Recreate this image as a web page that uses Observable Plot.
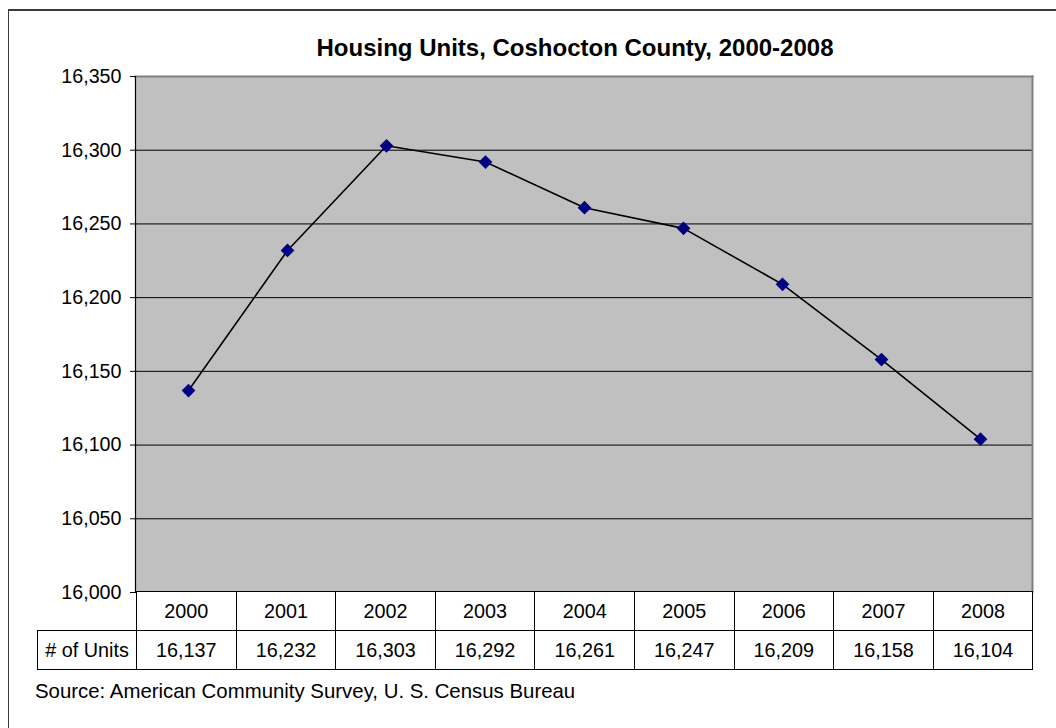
<!DOCTYPE html>
<html><head><meta charset="utf-8">
<script src="https://cdn.jsdelivr.net/npm/d3@7"></script>
<script src="https://cdn.jsdelivr.net/npm/@observablehq/plot@0.6"></script>
<style>
body{margin:0;background:#fff;font-family:"Liberation Sans",Arial,sans-serif;}
#wrap{position:relative;width:1056px;height:728px;overflow:hidden;background:#fff;}
#frame{position:absolute;left:8px;top:9px;width:1100px;height:800px;border-left:1.5px solid #3a3a3a;border-top:2px solid #3a3a3a;}
#chart{position:absolute;left:0;top:0;}
#title{position:absolute;left:175px;width:800px;top:36px;text-align:center;font-weight:bold;font-size:24px;line-height:1;color:#000;}
#tbl{position:absolute;left:37px;top:591px;width:996px;border-collapse:collapse;table-layout:fixed;font-size:19.8px;color:#000;}
#tbl td{border:1px solid #000;text-align:center;padding:0;height:38px;background:#fff;}
#tbl td.empty{border-top:none;border-left:none;background:transparent;}
#source{position:absolute;left:35px;top:681px;font-size:20.4px;line-height:1;color:#000;white-space:nowrap;}
</style>
</head><body>
<div id="wrap">
  <div id="frame"></div>
  <div id="chart"></div>
  <div id="title"></div>
  <table id="tbl"></table>
  <div id="source"></div>
</div>
<script>
const titleText = "Housing Units, Coshocton County, 2000-2008";
const sourceText = "Source: American Community Survey, U. S. Census Bureau";
const rowLabel = "# of Units";
const years = ["2000","2001","2002","2003","2004","2005","2006","2007","2008"];
const units = [16137,16232,16303,16292,16261,16247,16209,16158,16104];
const yTicks = [16000,16050,16100,16150,16200,16250,16300,16350];

const data = years.map((y,i)=>({year:y, units:units[i]}));
const fmt = d3.format(",");

const chart = Plot.plot({
  width:1056, height:592,
  marginTop:76, marginBottom:0, marginLeft:135, marginRight:24,
  style:{fontFamily:'"Liberation Sans", Arial, sans-serif', fontSize:"19.5px", color:"#000", background:"transparent", overflow:"visible"},
  x:{type:"point", domain:years, padding:0.5, axis:null},
  y:{domain:[16000,16350], axis:null},
  marks:[
    Plot.frame({fill:"#c0c0c0", stroke:null}),
    Plot.gridY(yTicks.slice(1,-1), {stroke:"#000", strokeOpacity:1, strokeWidth:1}),
    Plot.frame({anchor:"top", stroke:"#808080", strokeWidth:2}),
    Plot.frame({anchor:"right", stroke:"#808080", strokeWidth:2}),
    Plot.axisY(yTicks, {tickFormat:fmt, tickSize:5, tickPadding:9, fontSize:"19.7px", label:null, stroke:"#000"}),
    Plot.frame({anchor:"left", stroke:"#000", strokeWidth:1.2}),
    Plot.line(data,{x:"year", y:"units", stroke:"#000", strokeWidth:1.6}),
    Plot.dot(data,{x:"year", y:"units", symbol:"diamond2", r:6.2, fill:"#000080", stroke:null})
  ]
});
document.getElementById("chart").appendChild(chart);
document.getElementById("title").textContent = titleText;
document.getElementById("source").textContent = sourceText;

const tbl = document.getElementById("tbl");
const cg = document.createElement("colgroup");
const c0 = document.createElement("col"); c0.style.width = "99px"; cg.appendChild(c0);
years.forEach(()=>{const c=document.createElement("col"); c.style.width="99.6px"; cg.appendChild(c);});
tbl.appendChild(cg);
const r1 = tbl.insertRow();
const e = r1.insertCell(); e.className = "empty";
years.forEach(y=>{ r1.insertCell().textContent = y; });
const r2 = tbl.insertRow();
r2.insertCell().textContent = rowLabel;
units.forEach(v=>{ r2.insertCell().textContent = fmt(v); });
</script>
</body></html>
